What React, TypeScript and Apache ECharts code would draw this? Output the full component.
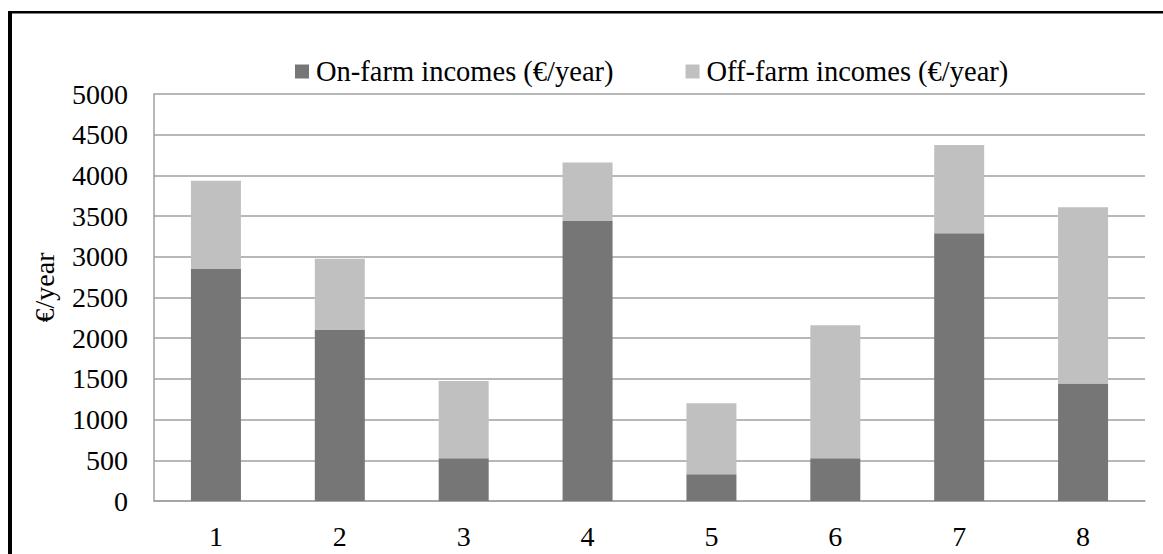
import React, { useEffect, useRef } from "react";
import * as echarts from "echarts";

const categories = ["1", "2", "3", "4", "5", "6", "7", "8"];
const onFarm = [2850, 2100, 525, 3440, 330, 525, 3290, 1445];
const offFarm = [1085, 875, 950, 720, 870, 1635, 1085, 2165];
const seriesNames = ["On-farm incomes (€/year)", "Off-farm incomes (€/year)"];
const yAxisName = "€/year";

const FONT = "'Liberation Serif', 'Times New Roman', serif";

export default function App() {
  const ref = useRef<HTMLDivElement>(null);
  useEffect(() => {
    document.body.style.margin = "0";
    if (!ref.current) return;
    const chart = echarts.init(ref.current, undefined, { renderer: "svg" });
    chart.setOption({
      animation: false,
      backgroundColor: "#ffffff",
      textStyle: { fontFamily: FONT },
      graphic: [
        { type: "rect", shape: { x: 8, y: 11, width: 4, height: 560 }, style: { fill: "#000" } },
        { type: "rect", shape: { x: 8, y: 11, width: 1170, height: 2.5 }, style: { fill: "#000" } },
      ],
      legend: {
        left: 290,
        top: 52,
        itemWidth: 14,
        itemHeight: 14,
        itemGap: 72,
        icon: "rect",
        textStyle: { fontFamily: FONT, fontSize: 28.5, color: "#000", padding: [0, 0, 0, 2] },
        data: seriesNames,
      },
      grid: { left: 154, top: 94, right: 18, bottom: 53, containLabel: false },
      xAxis: {
        type: "category",
        data: categories,
        axisLine: { lineStyle: { color: "#a0a0a0", width: 1.5 } },
        axisTick: { show: false },
        axisLabel: { fontFamily: FONT, fontSize: 28, color: "#000", margin: 21 },
      },
      yAxis: {
        type: "value",
        min: 0,
        max: 5000,
        interval: 500,
        name: yAxisName,
        nameLocation: "middle",
        nameGap: 96,
        nameTextStyle: { fontFamily: FONT, fontSize: 28, color: "#000", padding: [0, 0, 0, 20] },
        axisLine: { show: true, lineStyle: { color: "#a0a0a0", width: 1.5 } },
        axisTick: { show: false },
        splitLine: { lineStyle: { color: "#a0a0a0", width: 1.5 } },
        axisLabel: {
          fontFamily: FONT,
          fontSize: 28,
          color: "#000",
          margin: 26,
          formatter: (v: number) => String(v),
        },
      },
      series: [
        {
          name: seriesNames[0],
          type: "bar",
          stack: "total",
          barWidth: 50,
          itemStyle: { color: "#767676" },
          data: onFarm,
        },
        {
          name: seriesNames[1],
          type: "bar",
          stack: "total",
          barWidth: 50,
          itemStyle: { color: "#c0c0c0" },
          data: offFarm,
        },
      ],
    });
    return () => chart.dispose();
  }, []);
  return <div ref={ref} style={{ width: 1163, height: 554 }} />;
}
